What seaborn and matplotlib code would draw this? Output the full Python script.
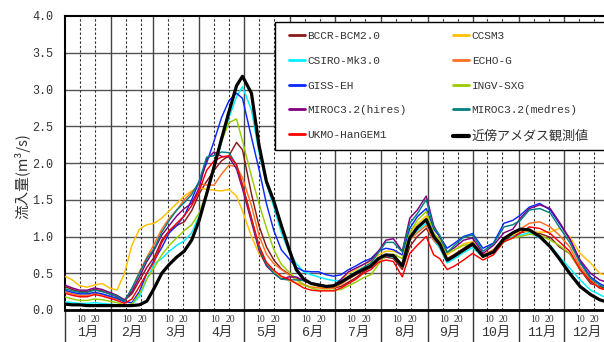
import numpy as np
import pandas as pd
import matplotlib
matplotlib.use("Agg")
import matplotlib.pyplot as plt
import matplotlib.transforms as mtransforms
from matplotlib.lines import Line2D
from matplotlib.patches import Rectangle
from matplotlib.font_manager import FontProperties
import seaborn as sns

# ---------------- data ----------------
days = [0, 5, 10, 15, 20, 25, 30, 35, 40, 45, 50, 55,
        60, 65, 70, 75, 80, 85, 90, 95, 100, 105, 110, 115, 119,
        125, 130, 135, 140, 145, 150, 155, 160, 165, 170, 175, 180,
        185, 190, 195, 200, 205, 210, 215, 220,
        226, 231, 236, 242, 247, 251, 256, 261, 267, 273, 280, 287, 294, 300,
        305, 311, 318, 325, 331, 338, 345, 352, 358, 361]

bccr = [0.32, 0.28, 0.25, 0.25, 0.28, 0.26, 0.22, 0.18, 0.13, 0.22, 0.40, 0.58,
        0.72, 0.95, 1.08, 1.15, 1.20, 1.35, 1.58, 1.75, 1.90, 2.03, 2.10, 2.28, 2.18,
        1.58, 1.15, 0.86, 0.68, 0.56, 0.49, 0.43, 0.40, 0.36, 0.33, 0.31, 0.30,
        0.32, 0.38, 0.44, 0.52, 0.58, 0.68, 0.72, 0.70,
        0.55, 0.86, 1.00, 1.11, 0.95, 0.85, 0.65, 0.72, 0.80, 0.88, 0.74, 0.80, 0.95, 1.00,
        1.05, 1.08, 1.04, 0.99, 0.86, 0.77, 0.55, 0.36, 0.32, 0.30]
ccsm3 = [0.46, 0.41, 0.33, 0.31, 0.34, 0.36, 0.30, 0.27, 0.50, 0.88, 1.10, 1.16,
         1.18, 1.25, 1.35, 1.45, 1.55, 1.62, 1.66, 1.64, 1.63, 1.62, 1.64, 1.55, 1.35,
         1.00, 0.77, 0.63, 0.52, 0.45, 0.40, 0.37, 0.34, 0.31, 0.31, 0.31, 0.32,
         0.40, 0.50, 0.55, 0.62, 0.66, 0.75, 0.80, 0.80,
         0.75, 1.05, 1.17, 1.28, 1.02, 0.95, 0.75, 0.82, 0.90, 0.93, 0.75, 0.82, 0.98, 1.02,
         1.08, 1.06, 1.06, 1.06, 1.11, 1.00, 0.77, 0.64, 0.50, 0.48]
csiro = [0.11, 0.10, 0.09, 0.09, 0.10, 0.09, 0.08, 0.07, 0.06, 0.08, 0.18, 0.42,
         0.63, 0.70, 0.80, 0.88, 0.94, 1.05, 1.28, 1.58, 1.95, 2.28, 2.62, 2.90, 3.04,
         2.72, 2.15, 1.72, 1.40, 1.05, 0.80, 0.63, 0.52, 0.48, 0.45, 0.42, 0.40,
         0.40, 0.45, 0.50, 0.56, 0.60, 0.70, 0.74, 0.72,
         0.62, 0.97, 1.08, 1.18, 0.95, 0.85, 0.64, 0.70, 0.78, 0.85, 0.72, 0.80, 0.92, 1.00,
         1.02, 1.05, 0.98, 0.88, 0.73, 0.57, 0.41, 0.27, 0.21, 0.18]
echog = [0.25, 0.22, 0.20, 0.20, 0.23, 0.21, 0.18, 0.15, 0.12, 0.28, 0.52, 0.72,
         0.90, 1.10, 1.25, 1.36, 1.50, 1.60, 1.72, 1.70, 1.70, 1.85, 1.97, 1.95, 1.80,
         1.42, 1.02, 0.76, 0.63, 0.55, 0.48, 0.41, 0.35, 0.31, 0.30, 0.29, 0.30,
         0.35, 0.42, 0.48, 0.54, 0.59, 0.68, 0.74, 0.75,
         0.62, 0.95, 1.05, 1.15, 0.95, 0.88, 0.70, 0.76, 0.84, 0.92, 0.75, 0.82, 0.98, 1.05,
         1.10, 1.18, 1.20, 1.13, 1.02, 0.86, 0.59, 0.41, 0.30, 0.28]
giss = [0.27, 0.24, 0.22, 0.22, 0.24, 0.22, 0.19, 0.16, 0.11, 0.10, 0.25, 0.50,
        0.68, 0.85, 1.05, 1.15, 1.28, 1.50, 1.75, 2.00, 2.30, 2.62, 2.85, 2.95, 2.88,
        2.35, 1.92, 1.45, 1.08, 0.82, 0.70, 0.58, 0.53, 0.52, 0.52, 0.48, 0.46,
        0.48, 0.55, 0.60, 0.66, 0.70, 0.80, 0.84, 0.82,
        0.75, 1.11, 1.27, 1.38, 1.10, 1.00, 0.84, 0.91, 1.00, 1.04, 0.84, 0.91, 1.18, 1.22,
        1.29, 1.40, 1.45, 1.36, 1.18, 0.97, 0.66, 0.45, 0.36, 0.33]
ingv = [0.18, 0.15, 0.13, 0.13, 0.15, 0.14, 0.12, 0.10, 0.07, 0.08, 0.22, 0.42,
        0.58, 0.75, 0.88, 0.98, 1.08, 1.16, 1.32, 1.59, 1.92, 2.30, 2.55, 2.60, 2.30,
        1.82, 1.45, 1.12, 0.82, 0.62, 0.52, 0.42, 0.34, 0.30, 0.27, 0.27, 0.27,
        0.28, 0.33, 0.38, 0.44, 0.48, 0.62, 0.75, 0.76,
        0.70, 1.05, 1.22, 1.34, 1.05, 0.95, 0.78, 0.82, 0.88, 0.90, 0.72, 0.78, 0.93, 0.98,
        1.00, 1.03, 1.02, 0.95, 0.88, 0.77, 0.55, 0.39, 0.30, 0.28]
miroc_hi = [0.34, 0.30, 0.27, 0.27, 0.30, 0.28, 0.24, 0.20, 0.14, 0.25, 0.45, 0.66,
            0.82, 1.02, 1.15, 1.28, 1.38, 1.45, 1.66, 2.05, 2.15, 2.09, 2.08, 1.92, 1.65,
            1.20, 0.82, 0.60, 0.50, 0.42, 0.45, 0.45, 0.40, 0.36, 0.33, 0.32, 0.33,
            0.42, 0.52, 0.57, 0.62, 0.68, 0.80, 0.95, 0.97,
            0.80, 1.25, 1.36, 1.55, 1.15, 1.00, 0.79, 0.85, 0.95, 0.98, 0.77, 0.88, 1.05, 1.10,
            1.25, 1.38, 1.43, 1.38, 1.20, 0.97, 0.68, 0.50, 0.41, 0.39]
miroc_med = [0.29, 0.26, 0.24, 0.24, 0.27, 0.25, 0.22, 0.19, 0.12, 0.30, 0.50, 0.70,
             0.84, 1.06, 1.22, 1.36, 1.46, 1.57, 1.75, 2.08, 2.10, 2.15, 2.14, 1.97, 1.70,
             1.25, 0.85, 0.62, 0.50, 0.42, 0.41, 0.41, 0.40, 0.37, 0.35, 0.33, 0.32,
             0.38, 0.46, 0.52, 0.58, 0.64, 0.78, 0.92, 0.92,
             0.79, 1.18, 1.31, 1.50, 1.12, 1.02, 0.78, 0.88, 0.99, 1.02, 0.80, 0.90, 1.13, 1.16,
             1.22, 1.36, 1.38, 1.32, 1.13, 0.92, 0.64, 0.43, 0.34, 0.31]
ukmo = [0.23, 0.20, 0.18, 0.18, 0.21, 0.19, 0.16, 0.13, 0.09, 0.15, 0.32, 0.50,
        0.66, 0.92, 1.08, 1.18, 1.28, 1.42, 1.62, 1.90, 2.03, 2.08, 2.10, 1.98, 1.70,
        1.25, 0.88, 0.65, 0.54, 0.46, 0.42, 0.36, 0.30, 0.27, 0.26, 0.26, 0.26,
        0.30, 0.36, 0.42, 0.50, 0.55, 0.65, 0.68, 0.66,
        0.45, 0.77, 0.88, 1.00, 0.75, 0.70, 0.55, 0.60, 0.68, 0.77, 0.68, 0.75, 0.93, 0.98,
        1.05, 1.13, 1.11, 1.04, 0.93, 0.80, 0.55, 0.39, 0.30, 0.28]
obs = [0.08, 0.07, 0.07, 0.06, 0.06, 0.06, 0.06, 0.06, 0.06, 0.06, 0.07, 0.12,
       0.30, 0.50, 0.62, 0.72, 0.80, 0.95, 1.22, 1.58, 1.95, 2.33, 2.70, 3.05, 3.18,
       2.95, 2.25, 1.75, 1.48, 1.15, 0.84, 0.55, 0.42, 0.36, 0.34, 0.32, 0.33,
       0.38, 0.44, 0.50, 0.55, 0.60, 0.70, 0.75, 0.74,
       0.60, 0.98, 1.12, 1.23, 1.00, 0.90, 0.68, 0.74, 0.82, 0.90, 0.73, 0.79, 0.97, 1.05,
       1.10, 1.09, 1.00, 0.86, 0.70, 0.50, 0.32, 0.21, 0.14, 0.12]

model_names = ["BCCR-BCM2.0", "CCSM3", "CSIRO-Mk3.0", "ECHO-G", "GISS-EH",
               "INGV-SXG", "MIROC3.2(hires)", "MIROC3.2(medres)", "UKMO-HanGEM1"]
obs_name = "近傍アメダス観測値"
model_values = [bccr, ccsm3, csiro, echog, giss, ingv, miroc_hi, miroc_med, ukmo]
colors = {"BCCR-BCM2.0": "#8B1A1A", "CCSM3": "#FFC000", "CSIRO-Mk3.0": "#00F0FF",
          "ECHO-G": "#FF7020", "GISS-EH": "#0A28FF", "INGV-SXG": "#99CC00",
          "MIROC3.2(hires)": "#800080", "MIROC3.2(medres)": "#008080",
          "UKMO-HanGEM1": "#FF0000"}

month_lengths = [31, 28, 31, 30, 31, 30, 31, 31, 30, 31, 30, 31]
month_labels = [f"{m}月" for m in range(1, 13)]
ytick_values = [0.0, 0.5, 1.0, 1.5, 2.0, 2.5, 3.0, 3.5, 4.0]

df_models = pd.concat([pd.DataFrame({"day": days, "value": v, "series": n})
                       for n, v in zip(model_names, model_values)], ignore_index=True)
df_obs = pd.DataFrame({"day": days, "value": obs})

# ---------------- style ----------------
sns.set_style("white")
plt.rcParams["font.family"] = ["Liberation Mono", "Noto Sans CJK JP", "DejaVu Sans"]

W, H = 604, 342
fig = plt.figure(figsize=(W / 100, H / 100), dpi=100)
ax_l, ax_r, ax_t, ax_b = 64.7, 604.0, 16.0, 310.0
ax = fig.add_axes([ax_l / W, 1 - ax_b / H, (ax_r - ax_l) / W, (ax_b - ax_t) / H])

month_starts = list(np.cumsum([0] + month_lengths[:-1]))

# grid
for v in ytick_values[1:-1]:
    ax.axhline(v, color="#555555", lw=1.0, zorder=1)
for ms in month_starts[1:]:
    ax.axvline(ms, color="#444444", lw=1.0, zorder=1)
for ms in month_starts:
    for d in (10, 20):
        ax.axvline(ms + d, color="#333333", lw=0.8, ls=(0, (2.2, 1.8)), zorder=1)

# data
sns.lineplot(data=df_models, x="day", y="value", hue="series", hue_order=model_names,
             palette=colors, estimator=None, lw=1.05, legend=False, ax=ax, zorder=3)
sns.lineplot(data=df_obs, x="day", y="value", color="black", estimator=None,
             lw=2.3, legend=False, ax=ax, zorder=4)

ax.set_xlim(0, 361)
ax.set_ylim(0, 4)
ax.set_xticks([])
ax.set_yticks(ytick_values)
ax.set_yticklabels([f"{v:.1f}" for v in ytick_values])
ax.tick_params(axis="y", length=0, pad=8, labelsize=8.5, labelcolor="#333333")
ax.set_xlabel("")
ax.set_ylabel("")
for s in ("left", "top"):
    ax.spines[s].set_linewidth(1.5)
    ax.spines[s].set_color("black")
ax.spines["bottom"].set_linewidth(2.0)
ax.spines["bottom"].set_color("black")
ax.spines["right"].set_visible(False)

# month band below axis
trans = mtransforms.blended_transform_factory(ax.transData, ax.transAxes)
ah = ax_b - ax_t
for ms in month_starts:
    ax.add_line(Line2D([ms, ms], [0, -(H - ax_b + 2) / ah], transform=trans,
                       clip_on=False, color="#333333", lw=1.0))
for ms, ml, lab in zip(month_starts, month_lengths, month_labels):
    for d in (10, 20):
        ax.text(ms + d + 0.8, -(319 - ax_b) / ah, str(d), transform=trans, fontsize=7,
                ha="center", va="center", family=["Liberation Serif"], color="#333333")
    ax.text(ms + ml / 2, -(333 - ax_b) / ah, lab, transform=trans, fontsize=9.5,
            ha="center", va="center", color="#333333")

# y label
fig.text(22 / W, 1 - 176 / H, "流入量(m³/s)", rotation=90, fontsize=10.5,
         ha="center", va="center", family=["Noto Sans CJK JP", "DejaVu Sans"],
         color="#333333")

# legend box + legend
rect = Rectangle((275 / W, 1 - 150 / H), (W - 275) / W + 0.05, 128 / H,
                 transform=fig.transFigure, facecolor="white", edgecolor="black",
                 lw=1.0, zorder=6, clip_on=False)
ax.add_patch(rect)

order = ["BCCR-BCM2.0", "CSIRO-Mk3.0", "GISS-EH", "MIROC3.2(hires)", "UKMO-HanGEM1",
         "CCSM3", "ECHO-G", "INGV-SXG", "MIROC3.2(medres)"]
handles = [Line2D([], [], color=colors[n], lw=2.0) for n in order]
handles.append(Line2D([], [], color="black", lw=3.0))
labels = order + [obs_name]
leg = ax.legend(handles, labels, ncol=2, frameon=False, loc="upper left",
                bbox_to_anchor=(289 / W, 1 - 31 / H), bbox_transform=fig.transFigure,
                borderpad=0, borderaxespad=0, handlelength=1.45, handletextpad=0.2,
                columnspacing=4.2, labelspacing=1.33,
                prop=FontProperties(family=["Liberation Mono", "Noto Sans CJK JP"], size=8))
leg.set_zorder(7)
for t in leg.get_texts():
    t.set_color("#333333")
leg.get_texts()[-1].set_fontsize(9.4)

fig.savefig("out.png", dpi=100)
